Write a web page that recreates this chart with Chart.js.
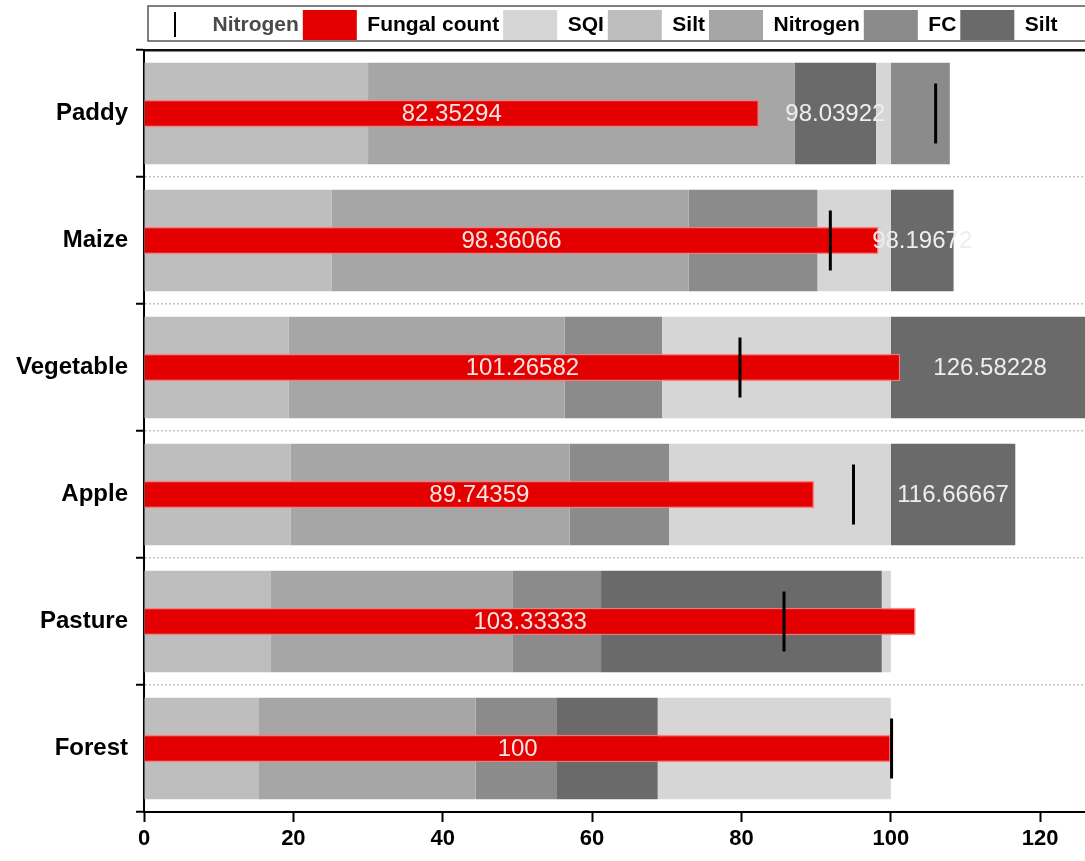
<!DOCTYPE html>
<html>
<head>
<meta charset="utf-8">
<script src="https://cdn.jsdelivr.net/npm/chart.js@4.4.0/dist/chart.umd.min.js"></script>
<style>
  html, body { margin: 0; padding: 0; background: #fff; }
  #wrap { width: 1085px; height: 861px; }
</style>
</head>
<body>
<div id="wrap"><canvas id="myChart"></canvas></div>
<script>
const categories = ["Paddy", "Maize", "Vegetable", "Apple", "Pasture", "Forest"];
const fungalCount = [82.35294, 98.36066, 101.26582, 89.74359, 103.33333, 100];
const nitrogenMark = [106.0, 91.9, 79.8, 95.0, 85.7, 100.1];

// background range bands (end value of each band)
const sqi = [100, 100, 100, 100, 100, 100];
const silt = [30.0, 25.1, 19.4, 19.6, 17.0, 15.4];
const nitrogen = [87.1, 72.9, 56.3, 57.0, 49.4, 44.4];
const fc = [107.9, 90.2, 69.4, 70.3, 61.2, 55.2];
const silt2 = [98.03922, 108.4, 126.58228, 116.66667, 98.8, 68.8];
const silt2Labels = ["98.03922", "98.19672", "126.58228", "116.66667", "", ""];

const bandSeries = [sqi, silt, nitrogen, fc, silt2];

// each band starts where the next smaller band of the same row ends
function toRanges(series) {
  return series.map((v, i) => {
    const lower = bandSeries.map(s => s[i]).filter(x => x < v);
    return [lower.length ? Math.max(...lower) : 0, v];
  });
}

const FONT = "'Liberation Sans', Arial, sans-serif";

const barLabels = {
  id: "barLabels",
  afterDatasetsDraw(chart) {
    const ctx = chart.ctx;
    ctx.save();
    ctx.font = "24px " + FONT;
    ctx.textAlign = "center";
    ctx.textBaseline = "middle";
    ctx.fillStyle = "#f4e4e4";
    chart.getDatasetMeta(1).data.forEach((bar, i) => {
      const c = bar.getCenterPoint();
      ctx.fillText(String(fungalCount[i]), c.x, c.y + 1);
    });
    ctx.fillStyle = "#eeeeee";
    chart.getDatasetMeta(6).data.forEach((bar, i) => {
      if (!silt2Labels[i]) return;
      const c = bar.getCenterPoint();
      ctx.fillText(silt2Labels[i], c.x, c.y + 1);
    });
    ctx.restore();
  },
};

const legendFrame = {
  id: "legendFrame",
  afterDraw(chart) {
    const lg = chart.legend;
    const ctx = chart.ctx;
    const hb = lg.legendHitBoxes[0];
    const bw = lg.options.labels.boxWidth;
    ctx.save();
    ctx.strokeStyle = "#555";
    ctx.lineWidth = 1.5;
    ctx.strokeRect(lg.left + 4, hb.top - 4, lg.width + 10, hb.height + 5);
    ctx.strokeStyle = "#000";
    ctx.lineWidth = 2;
    ctx.beginPath();
    ctx.moveTo(hb.left + bw / 2, hb.top + 2);
    ctx.lineTo(hb.left + bw / 2, hb.top + hb.height - 3);
    ctx.stroke();
    ctx.restore();
  },
};

const bandColors = ["#d6d6d6", "#bebebe", "#a6a6a6", "#8b8b8b", "#6a6a6a"];
const bandNames = ["SQI", "Silt", "Nitrogen", "FC", "Silt"];

const bandDatasets = bandSeries.map((s, k) => ({
  label: bandNames[k],
  data: toRanges(s),
  backgroundColor: bandColors[k],
  borderWidth: 0,
  barPercentage: 0.8,
  categoryPercentage: 1,
  grouped: false,
}));

const ctx = document.getElementById("myChart").getContext("2d");
const myChart = new Chart(ctx, {
  type: "bar",
  data: {
    labels: categories,
    datasets: [
      {
        type: "line",
        label: "Nitrogen",
        data: nitrogenMark,
        indexAxis: "y",
        showLine: false,
        pointStyle: "line",
        pointRotation: 90,
        pointRadius: 30,
        pointBorderWidth: 3,
        borderColor: "#000",
        backgroundColor: "#000",
      },
      {
        label: "Fungal count",
        data: fungalCount,
        backgroundColor: "#e40000",
        borderColor: "rgba(255,120,120,0.9)",
        borderWidth: 1.5,
        barPercentage: 0.215,
        categoryPercentage: 1,
        grouped: false,
      },
      ...bandDatasets,
    ],
  },
  options: {
    indexAxis: "y",
    responsive: true,
    maintainAspectRatio: false,
    animation: false,
    layout: { autoPadding: false, padding: { top: 6, right: 0, left: 0, bottom: 0 } },
    plugins: {
      tooltip: { enabled: false },
      legend: {
        position: "top",
        align: "start",
        fullSize: false,
        labels: {
          boxWidth: 54,
          boxHeight: 30,
          padding: 4,
          color: "#000",
          font: { family: FONT, size: 21, weight: "bold" },
          generateLabels(chart) {
            const items = Chart.defaults.plugins.legend.labels.generateLabels(chart);
            items[0].fillStyle = "rgba(0,0,0,0)";
            items[0].strokeStyle = "rgba(0,0,0,0)";
            items[0].lineWidth = 0;
            items[0].fontColor = "#4a4a4a";
            items.forEach(it => { if (it.datasetIndex > 0) it.lineWidth = 0; });
            return items;
          },
        },
      },
    },
    scales: {
      x: {
        min: 0,
        max: 126,
        afterFit(scale) { scale.height = 49; },
        ticks: {
          stepSize: 20,
          includeBounds: false,
          color: "#000",
          padding: 4,
          font: { family: FONT, size: 22, weight: "bold" },
        },
        grid: {
          drawOnChartArea: false,
          drawTicks: true,
          tickLength: 10,
          tickColor: "#000",
          tickWidth: 2,
        },
        border: { display: true, color: "#000", width: 2 },
      },
      xTop: {
        type: "linear",
        position: "top",
        min: 0,
        max: 126,
        afterFit(scale) { scale.height = 0; },
        ticks: { display: false },
        grid: { display: false, drawTicks: false },
        border: { display: true, color: "#111", width: 2.5 },
      },
      y: {
        offset: true,
        afterFit(scale) { scale.width = 144; },
        ticks: {
          color: "#000",
          padding: 8,
          font: { family: FONT, size: 24, weight: "bold" },
        },
        grid: {
          offset: true,
          drawOnChartArea: true,
          color: "#c4c4c4",
          lineWidth: 1.5,
          tickLength: 8,
          tickColor: "#000",
          tickWidth: 2,
        },
        border: { display: true, color: "#000", width: 2, dash: [2, 2] },
      },
    },
  },
  plugins: [barLabels, legendFrame],
});
</script>
</body>
</html>
